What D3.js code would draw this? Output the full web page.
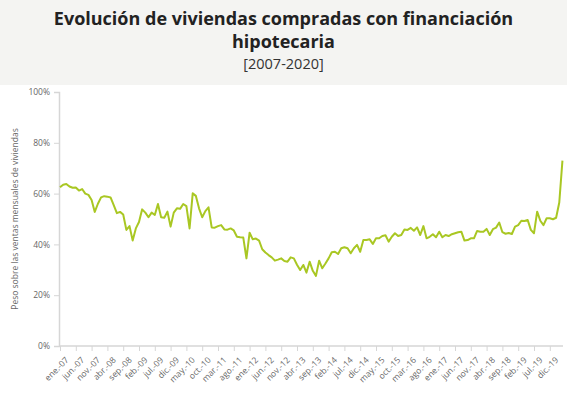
<!DOCTYPE html>
<html>
<head>
<meta charset="utf-8">
<script src="https://cdn.jsdelivr.net/npm/d3@7"></script>
<style>
  body { margin: 0; background: #fff; }
  svg { display: block; font-family: "Open Sans", sans-serif; }
</style>
</head>
<body>
<div id="chart"></div>
<script>
// Data: monthly share (%) of homes bought with a mortgage, ene-07 .. abr-20
const monthNames = ["ene.", "feb.", "mar.", "abr.", "may.", "jun.", "jul.", "ago.", "sep.", "oct.", "nov.", "dic."];
const startYear = 2007;
const values = [
  62.5, 63.5, 63.8, 62.8, 62.3, 62.4, 61.2, 61.8, 60.0, 59.5, 57.5, 52.8,
  56.0, 58.5, 59.0, 58.8, 58.5, 55.5, 52.3, 52.8, 51.8, 45.7, 47.2, 41.5,
  46.3, 48.8, 53.8, 52.5, 50.7, 52.5, 51.6, 55.9, 50.7, 50.5, 52.9, 47.0,
  52.5, 54.2, 54.0, 55.9, 55.1, 46.3, 60.1, 59.1, 54.2, 50.7, 53.1, 54.6,
  46.7, 46.6, 47.2, 47.6, 45.9, 45.8, 46.3, 45.5, 43.0, 42.8, 42.7, 34.5,
  44.6, 42.0, 42.3, 41.5, 38.1, 36.8, 35.8, 34.9, 33.6, 34.0, 34.5, 33.5,
  33.2, 34.9, 34.5, 32.0, 29.9, 31.9, 28.9, 33.2, 29.6, 27.6, 33.6, 30.6,
  32.5, 34.5, 36.9, 37.1, 36.2, 38.5, 38.9, 38.5, 36.5, 38.5, 39.8, 37.1,
  41.7, 41.7, 42.0, 40.2, 42.4, 42.4, 43.3, 43.6, 41.1, 43.0, 44.4, 43.3,
  43.7, 45.9, 45.7, 46.5, 45.4, 46.7, 43.7, 47.2, 42.4, 43.0, 44.0, 42.8,
  45.0, 42.8, 43.7, 43.3, 44.0, 44.4, 44.8, 45.0, 41.5, 41.7, 42.4, 42.4,
  45.3, 45.0, 45.0, 46.1, 43.7, 46.0, 46.6, 48.6, 44.8, 44.2, 44.5, 44.1,
  47.0, 47.6, 49.3, 49.2, 49.6, 45.7, 44.4, 52.9, 49.3, 47.6, 50.3, 50.3,
  49.9, 50.5, 56.5, 73.0
];
const categories = values.map((v, i) =>
  monthNames[i % 12] + "-" + String((startYear + Math.floor(i / 12)) % 100).padStart(2, "0"));
const yTicks = [0, 20, 40, 60, 80, 100];
const tickEvery = 5;

const width = 567, height = 393;
const margin = { top: 92, right: 4, bottom: 47, left: 60 };

const svg = d3.select("#chart").append("svg")
  .attr("width", width)
  .attr("height", height);

// header band
svg.append("rect")
  .attr("width", width)
  .attr("height", 85)
  .attr("fill", "#f4f4f2");

svg.append("text")
  .attr("x", width / 2).attr("y", 25)
  .attr("text-anchor", "middle")
  .attr("font-size", 18).attr("font-weight", "bold").attr("fill", "#222")
  .text("Evolución de viviendas compradas con financiación");
svg.append("text")
  .attr("x", width / 2).attr("y", 48)
  .attr("text-anchor", "middle")
  .attr("font-size", 18).attr("font-weight", "bold").attr("fill", "#222")
  .text("hipotecaria");
svg.append("text")
  .attr("x", width / 2).attr("y", 69)
  .attr("text-anchor", "middle")
  .attr("font-size", 14.5).attr("fill", "#333")
  .text("[2007-2020]");

const x = d3.scalePoint()
  .domain(categories)
  .range([margin.left, margin.left + 3.16 * (categories.length - 1)]);

const y = d3.scaleLinear()
  .domain([0, 100])
  .range([height - margin.bottom, margin.top]);

// y axis
const yAxis = svg.append("g")
  .attr("transform", `translate(${margin.left - 1},0)`)
  .call(d3.axisLeft(y).tickValues(yTicks).tickSize(5).tickPadding(4).tickFormat(d => d + "%"));
yAxis.select(".domain").attr("stroke", "#d6d6d6").attr("stroke-width", 1.5);
yAxis.selectAll(".tick line").attr("stroke", "#d6d6d6");
yAxis.selectAll(".tick text").attr("fill", "#666").attr("font-size", 8.5).attr("font-family", "Open Sans, sans-serif");

// x axis
const xAxis = svg.append("g")
  .attr("transform", `translate(0,${height - margin.bottom})`)
  .call(d3.axisBottom(x)
    .tickValues(categories.filter((d, i) => i % tickEvery === 0))
    .tickSize(5).tickSizeOuter(0));
xAxis.select(".domain")
  .attr("d", `M${margin.left - 1},0H${width - margin.right}`)
  .attr("stroke", "#d6d6d6").attr("stroke-width", 1.5);
xAxis.selectAll(".tick line").attr("stroke", "#d6d6d6");
xAxis.selectAll(".tick text")
  .attr("fill", "#666").attr("font-size", 8.5).attr("font-family", "Open Sans, sans-serif")
  .attr("text-anchor", "end")
  .attr("dx", 0).attr("dy", 0)
  .attr("transform", "translate(3,9) rotate(-45)");

// y axis title
svg.append("text")
  .attr("transform", `translate(18,${y(50)}) rotate(-90)`)
  .attr("text-anchor", "middle")
  .attr("font-size", 8.5).attr("fill", "#666")
  .text("Peso sobre las ventas mensuales de viviendas");

// line
const line = d3.line()
  .x((d, i) => x(categories[i]))
  .y(d => y(d));

svg.append("path")
  .datum(values)
  .attr("fill", "none")
  .attr("stroke", "#a9c723")
  .attr("stroke-width", 2)
  .attr("stroke-linejoin", "round")
  .attr("d", line);
</script>
</body>
</html>
